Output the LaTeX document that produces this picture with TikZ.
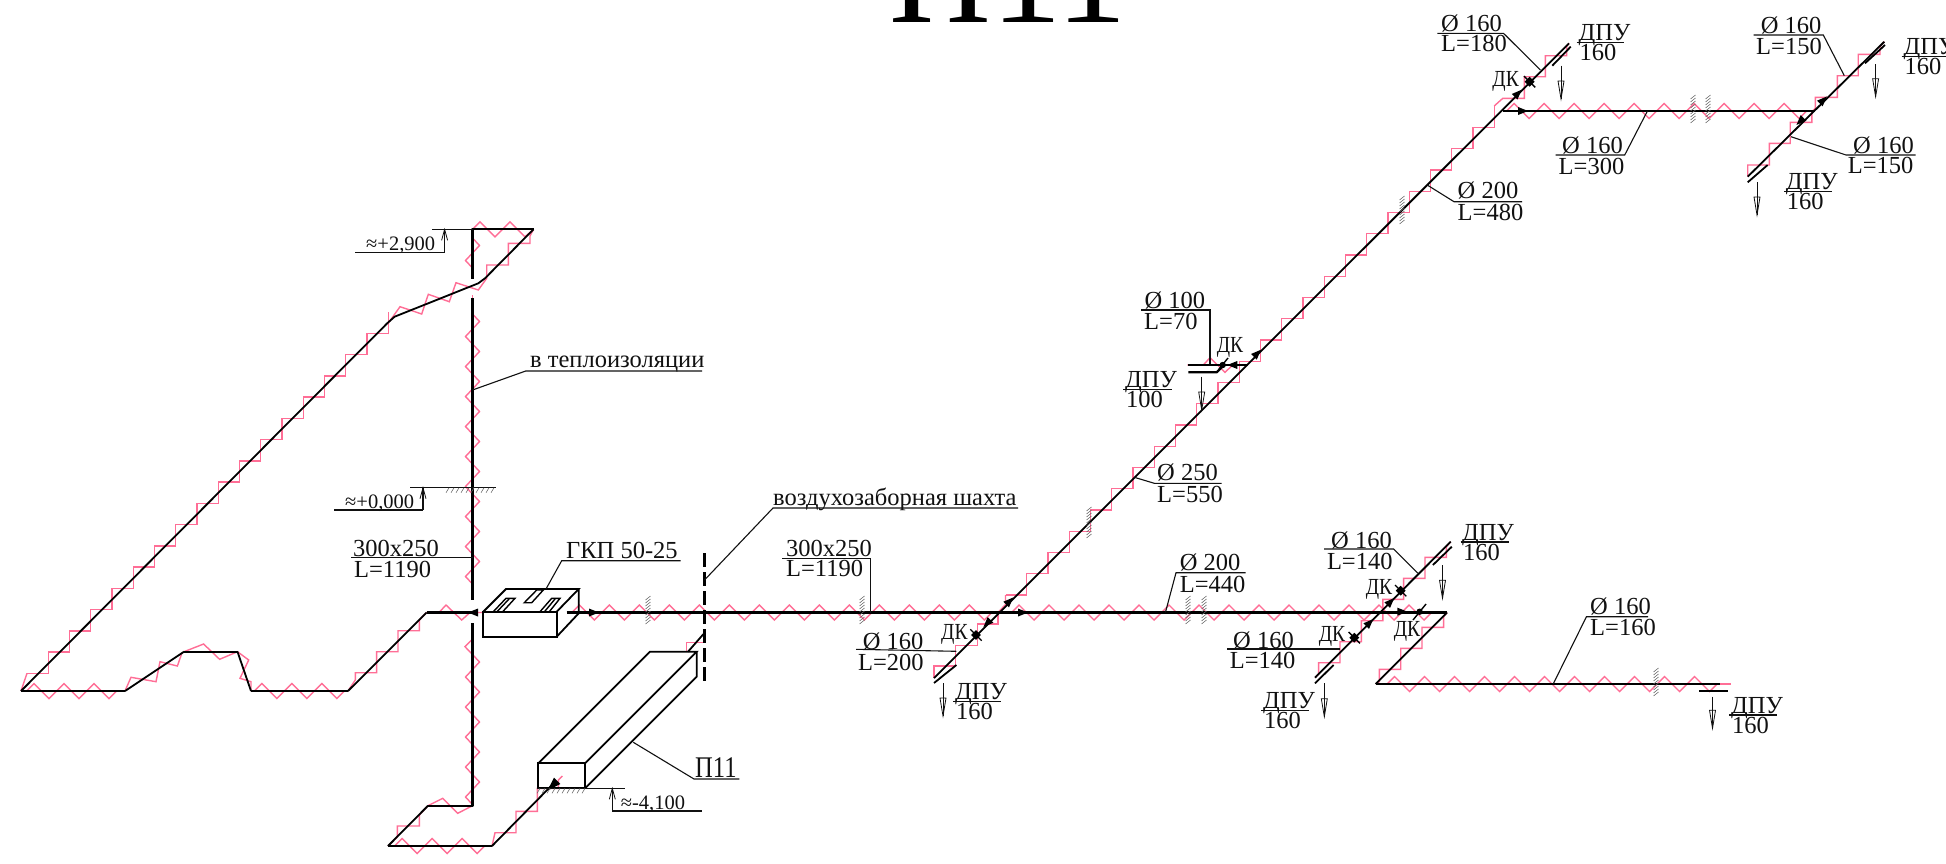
\documentclass[tikz,border=0pt]{standalone}
\usepackage{fontspec}
\setmainfont{Liberation Serif}
\definecolor{pk}{HTML}{FF6E96}
\definecolor{ink}{HTML}{111111}
\tikzset{
  pinkl/.style={draw=pk,line width=1.4pt,line join=miter},
  duct/.style={draw=black,line width=2.3pt,line join=round},
  diag/.style={draw=black,line width=1.8pt,line join=round},
  boxl/.style={draw=black,line width=1.8pt,line join=miter},
  lead/.style={draw=ink,line width=1.1pt},
  thinl/.style={draw=ink,line width=.8pt},
  hatchl/.style={draw=black!60,line width=.55pt},
  lbl/.style={font=\fontsize{24.5}{24.5}\selectfont,inner sep=0pt,anchor=base west,text=ink},
  lblm/.style={font=\fontsize{20.5}{24}\selectfont,inner sep=0pt,anchor=base west,text=ink},
  lblk/.style={font=\fontsize{23}{24}\selectfont,inner sep=0pt,anchor=base west,text=ink,xscale=.85,transform shape},
  lblp/.style={font=\fontsize{30}{30}\selectfont,inner sep=0pt,anchor=base west,text=ink,xscale=.82,transform shape},
}
\newcommand{\zigh}[3]{\draw[pinkl] (#1,#2) \foreach \i in {1,...,#3} { -- ++(7.5,-7.5) -- ++(15,15) -- ++(7.5,-7.5) };}
\newcommand{\zigv}[3]{\draw[pinkl] (#1,#2) \foreach \i in {1,...,#3} { -- ++(7,7.5) -- ++(-14,15) -- ++(7,7.5) };}
\newcommand{\stair}[3]{\draw[pinkl] (#1,#2) \foreach \i in {1,...,#3} { -- ++(21.25,0) -- ++(0,-21.25) };}
\newcommand{\lab}[4]{\node[lbl] (#1) at (#2,#3+8) {#4};}
\newcommand{\labm}[4]{\node[lblm] (#1) at (#2,#3+7) {#4};}
\newcommand{\labk}[4]{\node[lblk] (#1) at (#2,#3+8) {#4};}
\newcommand{\hv}[3]{\foreach \yy in {#2,\the\numexpr#2+3\relax,...,#3} {\draw[hatchl] (#1-2.5,\yy+2) -- (#1+2.5,\yy-2);}}
\newcommand{\hh}[3]{\foreach \xx in {#1,\the\numexpr#1+5\relax,...,#2} {\draw[hatchl] (\xx,#3+5) -- (\xx+3,#3);}}
\newcommand{\fa}[3]{\fill[black,shift={(#1,#2)},rotate=#3] (6,0) -- (-4,4) -- (-4,-4) -- cycle;}
\newcommand{\fab}[3]{\fill[black,shift={(#1,#2)},rotate=#3] (8,0) -- (-6,4.5) -- (-6,-4.5) -- cycle;}
\newcommand{\dk}[3]{\fill[black,shift={(#1,#2)},rotate=#3] (-3.5,-3.5) rectangle (3.5,3.5); \draw[line width=1.4pt,shift={(#1,#2)},rotate=#3] (-8,0) -- (8,0);}
\newcommand{\dpa}[3]{\draw[thinl] (#1,#2) -- (#1,#3); \draw[thinl,line join=miter] (#1-3,#3-18) -- (#1,#3) -- (#1+3,#3-18) -- cycle;}
\newcommand{\lev}[3]{\draw[lead] (#1,#2) -- (#1,#3); \draw[thinl] (#1-3,#3+11) -- (#1,#3) -- (#1+3,#3+11);}
\newcommand{\dpu}[6]{\lab{#1a}{#2}{#3}{ДПУ} \draw[lead] (#4,#3+10) -- (#5,#3+10); \lab{#1b}{#2+1}{#3+20}{#6}}
\begin{document}
\begin{tikzpicture}[x=1pt,y=-1pt]
\path[use as bounding box] (0,0) rectangle (1946,863);
\clip (0,0) rectangle (1946,863);
\fill[white] (0,0) rectangle (1946,863);
% title
\node[inner sep=0pt,anchor=base west,font=\fontsize{141}{141}\selectfont] (title) at (889,22) {П11};
% junction coordinates
\coordinate (a1) at (21,691); \coordinate (a2) at (125,691); \coordinate (a3) at (184,651.7);
\coordinate (a4) at (237.5,651.7); \coordinate (a5) at (251,691); \coordinate (a6) at (348,691);
\coordinate (a7) at (426.6,612.5); \coordinate (a8) at (471,612.5);
\coordinate (b1) at (394.6,316.7); \coordinate (b2) at (478.3,283.3); \coordinate (b3) at (485,278.3);
\coordinate (b4) at (533.5,229.3); \coordinate (b5) at (472.5,229.3);
\coordinate (c1) at (472.5,805.7); \coordinate (c2) at (428,805.7); \coordinate (c3) at (388,846);
\coordinate (c4) at (492,846); \coordinate (c5) at (555,782);
\coordinate (m1) at (566.7,612.5); \coordinate (m2) at (1447,612.5); \coordinate (m3) at (1375.7,684);
\coordinate (m4) at (1731,684);
\coordinate (d1) at (934,678); \coordinate (d2) at (1569,43.3);
\coordinate (e1) at (1315,677.7); \coordinate (e2) at (1450.7,541.7);
\coordinate (f1) at (1502.8,111); \coordinate (f2) at (1814.6,111);
\coordinate (g1) at (1747.7,176.7); \coordinate (g2) at (1884.3,41.7);
% pink : left riser
\stair{27}{673.3}{17}
\draw[pinkl] (a1) -- (27,673.3);
\draw[pinkl] (388.4,334.3) -- (388.4,323);
\draw[pinkl] (388.4,323) -- (400,306.7) -- (421.7,314) -- (428.3,294.3) -- (449.3,301.7) -- (456,282.7) -- (478.3,290) -- (486.7,278.3) -- (486.7,265) -- (508.3,265) -- (508.3,243.3) -- (530,243.3) -- (530,236) -- (b4);
\draw[pinkl] (b5) -- (480,221.8) -- (495,236.8) -- (510,221.8) -- (525,236.8) -- (b4);
\draw[pinkl] (b5) -- (472.5,238); \zigv{472.5}{238}{1} \draw[pinkl] (472.5,268) -- (472.5,278);
\draw[pinkl] (472.5,295) -- (472.5,314); \zigv{472.5}{314}{9}\draw[pinkl] (472.5,584) -- (472.5,600);
\draw[pinkl] (472.5,625) -- (472.5,639) -- (465,646.7) -- (472.5,654.5); \zigv{472.5}{654.5}{5}
% pink : lower left
\draw[pinkl] (a1) -- (26.5,691); \zigh{26.5}{691}{3}\draw[pinkl] (116.5,691) -- (a2);
\draw[pinkl] (a2) -- (131,677.3) -- (156,681.7) -- (160,661.7) -- (177.4,666) -- (181.8,653.3) -- (a3);
\draw[pinkl] (a3) -- (203.6,644) -- (219.6,659.3) -- (a4) -- (248.7,660) -- (240,678.3) -- (251,681.7) -- (a5);
\zigh{254.3}{691}{3}
\draw[pinkl] (a5) -- (254.3,691) (344.3,691) -- (a6) -- (355.3,680) -- (355.3,672.7) -- (376.6,672.7) -- (376.6,651.7) -- (398,651.7) -- (398,630.7) -- (419.3,630.7) -- (419.3,620) -- (a7);
\draw[pinkl] (a7) -- (439,612.5) -- (446,605) -- (461.7,620) -- (470,612.5) -- (483,612.5);
% pink : bottom
\draw[pinkl] (c1) -- (457.7,813.3) -- (442.7,798.3) -- (c2) -- (419.3,815) -- (419.3,826) -- (397.3,826) -- (397.3,837) -- (c3);
\zigh{394.7}{846}{3}\draw[pinkl] (c3) -- (394.7,846) (484.7,846) -- (c4) -- (495,832.7) -- (516,832.7) -- (516,811.3) -- (537.3,811.3) -- (537.3,788.3) -- (558.3,788.3) -- (558.3,780) -- (562.3,776);
\draw[pinkl] (686.7,651.7) -- (686.7,642.7) -- (703.3,642.7) -- (703.3,633.3);
% pink : main horizontal
\draw[pinkl] (m1) -- (571.8,612.5); \zigh{571.8}{612.5}{14}
\draw[pinkl] (991.8,612.5) -- (1011.5,612.5); \zigh{1011.5}{612.5}{14}
\draw[pinkl] (1431.5,612.5) -- (m2);
% pink : main diagonal
\draw[pinkl] (d1) -- (934,666) -- (955.5,666) -- (955.5,645.7) -- (977.4,645.7) -- (977.4,624) -- (998,624) -- (998,612.5);
\draw[pinkl] (998,612.5) -- (1005.5,604.5) -- (1005.5,595);
\stair{1005.5}{595}{23}
\draw[pinkl] (1494.2,106) -- (1502.8,98.3) -- (1524.4,98.3) -- (1524.4,76.7) -- (1545.3,76.7) -- (1545.3,55.7) -- (1566.6,55.7) -- (1566.6,46.7) -- (d2);
% pink : right junction
\draw[pinkl] (e1) -- (1318.6,674) -- (1318.6,662.7) -- (1340,662.7) -- (1340,641.7) -- (1361.4,641.7) -- (1361.4,620.7) -- (1382.9,620.7) -- (1382.9,599.3) -- (1403.6,599.3) -- (1403.6,578.3) -- (1425,578.3) -- (1425,557.3) -- (1446.4,557.3) -- (1446.4,546.7) -- (e2);
\draw[pinkl] (m2) -- (1443.6,616.7) -- (1443.6,627.3) -- (1422,627.3) -- (1422,648.3) -- (1400.7,648.3) -- (1400.7,669.3) -- (1379.3,669.3) -- (1379.3,681.7) -- (m3);
\draw[pinkl] (m3) -- (1387,684); \zigh{1387}{684}{11} \draw[pinkl] (1717,684) -- (m4);
\draw[pinkl] (f1) -- (1506.5,111); \zigh{1506.5}{111}{10}\draw[pinkl] (1806.5,111) -- (1812,111);
\draw[pinkl] (g1) -- (1747.7,165) -- (1769.3,165) -- (1769.3,143.3) -- (1790.2,143.3) -- (1790.2,122.3) -- (1811.8,122.3) -- (1811.8,111.7) -- (1815.3,108.3) -- (1815.3,97.3) -- (1837.3,97.3) -- (1837.3,75.7) -- (1858.2,75.7) -- (1858.2,54.3) -- (1880,54.3) -- (1880,46.7) -- (g2);
\draw[pinkl] (1187.3,365) -- (1203.3,365) -- (1210,357.7) -- (1225,372.3) -- (1232.7,365) -- (1246.7,365);
% black ducts
\draw[duct] (a1) -- (a2);
\draw[diag] (a2) -- (a3);
\draw[duct] (a3) -- (a4);
\draw[diag] (a4) -- (a5);
\draw[duct] (a5) -- (a6);
\draw[diag] (a6) -- (a7);
\draw[duct] (a7) -- (a8);
\draw[diag] (a1) -- (387.5,323) -- (b1) -- (b2) -- (b3) -- (b4);
\draw[duct] (b4) -- (b5) -- (472.5,279);
\draw[duct] (472.5,298) -- (472.5,600);
\draw[duct] (472.5,623) -- (c1) -- (c2);
\draw[diag] (c2) -- (c3);
\draw[duct] (c3) -- (c4);
\draw[diag] (c4) -- (c5);
\draw[duct] (m1) -- (m2);
\draw[diag] (m2) -- (m3);
\draw[duct] (m3) -- (1720,684);
\draw[diag] (d1) -- (d2);
\draw[diag] (e1) -- (e2);
\draw[duct] (f1) -- (f2);
\draw[diag] (g1) -- (g2);
% second lines of the grilles
\draw[diag] (934,683) -- (956.4,665);
\draw[diag] (1315,683.3) -- (1333.6,665);
\draw[diag] (1432.9,565) -- (1451.8,546.7);
\draw[diag] (1552.3,65.7) -- (1570.7,46.7);
\draw[diag] (1747.7,182.3) -- (1767.6,165);
\draw[diag] (1865,63.3) -- (1885,45);
\draw[duct] (1699,691.3) -- (1727.5,691.3);
\draw[duct] (1188.3,365) -- (1248,365);
\draw[duct] (1188.3,372.3) -- (1216.7,372.3) -- (1222,367);
% GKP box
\draw[boxl] (483.3,611.7) rectangle (556.7,636.7);
\draw[boxl] (483.3,611.7) -- (506,589) -- (578.7,589) -- (556.7,611.7);
\draw[boxl] (578.7,589) -- (578.7,613.3) -- (556.7,636.7);
\draw[boxl,line width=1.4pt] (493.3,611.7) -- (506,598.3) -- (515,598.3) -- (502.7,611.7);
\draw[boxl,line width=1.4pt] (497,611.7) -- (509,599);
\draw[boxl,line width=1.4pt] (524.3,602.7) -- (536.7,590) -- (543.3,590) -- (531.7,602.7) -- cycle;
\draw[boxl,line width=1.4pt] (540,611.7) -- (551.7,598.3) -- (560,598.3) -- (549.3,611.7);
\draw[boxl,line width=1.4pt] (544.5,611.7) -- (555,599);
% P11 box
\draw[boxl] (538.3,763.3) rectangle (585,788.3);
\draw[boxl] (538.3,763.3) -- (650,651.7) -- (696.7,651.7) -- (585,763.3);
\draw[boxl] (696.7,651.7) -- (696.7,676.7) -- (585,788.3);
\draw[diag] (688,651.7) -- (703.5,634);
\draw[duct,dash pattern=on 14pt off 5pt] (704.5,553) -- (704.5,683);
% hatches
\hv{648}{598}{623} \hv{862}{598}{623} \hv{1188}{598}{623} \hv{1204}{598}{623}
\hv{1656}{670}{695} \hv{1693}{97}{123} \hv{1708}{97}{123}
\hv{1089}{509}{536} \hv{1402}{198}{222}
% flow arrows
\fa{474}{612.5}{180} \fa{593}{612.5}{0} \fa{1022}{612.5}{0} \fa{1009}{601.7}{45} \fa{987.7}{622.7}{225}
\fab{553}{785}{225} \fa{1390}{602.3}{45} \fa{1369}{623.3}{45} \fa{1401.4}{611.7}{0}
\fa{1517.4}{94}{45} \fa{1522}{111}{0} \fa{1822.6}{100.7}{45} \fa{1800.7}{120.7}{225}
\fa{1256.7}{354}{45} \fa{1233.3}{365}{180}
% dampers
\dk{976}{635}{-45} \dk{1354.3}{637.7}{-45} \dk{1400.7}{590.7}{-45} \dk{1529.6}{81.7}{-45}
\fill (1419.6,611.7) circle (3.2pt); \draw[line width=1.4pt] (1413,620) -- (1426,604);
\fill (1222.7,365) circle (3.2pt); \draw[line width=1.4pt] (1219,369) -- (1228,358);
% air grille arrows
\dpa{943}{683.3}{716} \dpa{1324.3}{683}{716.7} \dpa{1442.5}{565}{598.3} \dpa{1712.5}{696.7}{728.3}
\dpa{1201.7}{376.7}{410} \dpa{1561}{65.7}{99} \dpa{1757}{182.3}{215} \dpa{1875.6}{64}{96.7}
% level marks
\draw[lead] (432,229.3) -- (b5);
\draw[lead] (355,252.3) -- (444.6,252.3); \lev{444.6}{252.3}{229.3}
\draw[lead] (410,487.7) -- (495.7,487.7); \hh{446}{492}{487.7}
\draw[lead] (334,510) -- (423,510); \lev{423}{510}{487.7}
\draw[lead] (536.7,788.3) -- (625,788.3); \hh{537}{585}{788.3}
\draw[lead] (612.3,811) -- (701.7,811); \lev{612.3}{811}{788.3}
\labm{l1}{366}{243}{≈+2,900}
\labm{l2}{345}{501}{≈+0,000}
\labm{l3}{620.7}{802}{≈-4,100}
% labels with leaders
\lab{t1}{530}{359}{в теплоизоляции}
\draw[lead] (472.5,390) -- (525.7,371) -- (702,371);
\lab{t2}{773}{497}{воздухозаборная шахта}
\draw[lead] (704.5,580) -- (773,508) -- (1018,508);
\lab{t3}{566}{550}{ГКП 50-25}
\draw[lead] (546,589) -- (561.7,560.7) -- (680.7,560.7);
\node[lblp] (t4) at (695,777) {П11};
\draw[lead] (633.3,742.3) -- (694,779) -- (739.3,779);
\lab{s1}{353}{548}{300x250}\lab{s2}{354}{569}{L=1190}
\draw[lead] (351,557.7) -- (472.5,557.7);
\lab{s3}{786}{548}{300x250}\lab{s4}{786}{568}{L=1190}
\draw[lead] (782,558.3) -- (870.7,558.3) -- (870.7,612.5);
\lab{s5}{862.7}{641.7}{Ø 160}\lab{s6}{858}{662.7}{L=200}
\draw[lead] (856,649.3) -- (956.4,651.3);
\lab{s7}{1179.6}{562.7}{Ø 200}\lab{s8}{1179.6}{584}{L=440}
\draw[lead] (1165.4,612.5) -- (1176,572.7) -- (1245.7,572.7);
\lab{s9}{1233}{640}{Ø 160}\lab{s10}{1229.6}{660.7}{L=140}
\draw[lead] (1227.4,649) -- (1340,649);
\lab{s11}{1331}{540}{Ø 160}\lab{s12}{1326.8}{561.7}{L=140}
\draw[lead] (1324,549) -- (1393.6,549) -- (1417.9,573.3);
\lab{s13}{1590}{606.7}{Ø 160}\lab{s14}{1590}{627.3}{L=160}
\draw[lead] (1553.2,684) -- (1586.4,616.7) -- (1648,616.7);
\lab{s15}{1144.3}{300.7}{Ø 100}\lab{s16}{1144}{321.7}{L=70}
\draw[lead] (1141,310) -- (1210,310) -- (1210,364.3);
\lab{s17}{1157}{472.7}{Ø 250}\lab{s18}{1157}{494}{L=550}
\draw[lead] (1134.3,477.3) -- (1154.3,483.3) -- (1221.7,483.3);
\lab{s19}{1457.5}{190.7}{Ø 200}\lab{s20}{1457.5}{212.3}{L=480}
\draw[lead] (1427.2,185) -- (1454,201.7) -- (1522,201.7);
\lab{s21}{1441}{23.3}{Ø 160}\lab{s22}{1441}{43.3}{L=180}
\draw[lead] (1437.3,33.3) -- (1503.5,33.3) -- (1540.4,70);
\lab{s23}{1562}{145}{Ø 160}\lab{s24}{1558.5}{166}{L=300}
\draw[lead] (1647.4,111) -- (1624.7,155) -- (1555.7,155);
\lab{s25}{1760.6}{25}{Ø 160}\lab{s26}{1756}{46.7}{L=150}
\draw[lead] (1753.7,35) -- (1823.3,35) -- (1844.3,75.7);
\lab{s27}{1853}{145}{Ø 160}\lab{s28}{1847.7}{165.7}{L=150}
\draw[lead] (1791,136.7) -- (1846,155) -- (1915.7,155);
% damper labels
\labk{k1}{941}{631.7}{ДК}\labk{k2}{1318.6}{633}{ДК}\labk{k3}{1365.7}{586.7}{ДК}
\labk{k4}{1393.6}{628}{ДК}\labk{k5}{1216.7}{344}{ДК}\labk{k6}{1492.3}{78.3}{ДК}
% grille labels
\dpu{p1}{955}{691.7}{953}{1001}{160}
\dpu{p2}{1263}{700.5}{1261}{1309}{160}
\dpu{p3}{1462}{532}{1460.7}{1508.6}{160}
\dpu{p4}{1731}{705}{1729.3}{1776.8}{160}
\dpu{p5}{1125}{379.5}{1123.3}{1171.7}{100}
\dpu{p6}{1578.4}{32.3}{1576.7}{1624}{160}
\dpu{p7}{1785.7}{181.5}{1784}{1832}{160}
\dpu{p8}{1903.5}{46.7}{1901.7}{1946}{160}
\end{tikzpicture}
\end{document}
